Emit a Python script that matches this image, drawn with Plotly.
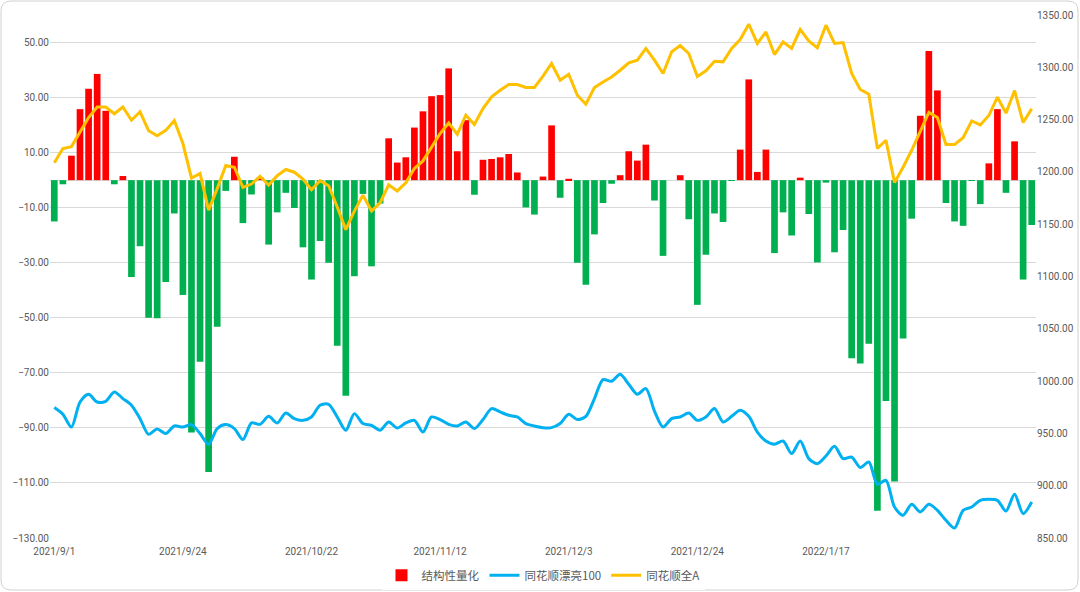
import pandas as pd
import plotly.graph_objects as go

# trading days 2021/9/1 - 2022/2/25 (A-share holidays removed)
HOLIDAYS = ["2021-09-20", "2021-09-21", "2021-10-01", "2021-10-04", "2021-10-05",
            "2021-10-06", "2021-10-07", "2022-01-03", "2022-01-31", "2022-02-01",
            "2022-02-02", "2022-02-03", "2022-02-04"]
days = [d for d in pd.bdate_range("2021-09-01", "2022-02-25")
        if d.strftime("%Y-%m-%d") not in HOLIDAYS]
dates = [f"{d.year}/{d.month}/{d.day}" for d in days]
tick_dates = ["2021/9/1", "2021/9/24", "2021/10/22", "2021/11/12",
              "2021/12/3", "2021/12/24", "2022/1/17"]

# 结构性量化 (left axis)
quant = [
    -15.0, -1.5, 8.9, 25.8, 33.2, 38.6, 25.2, -1.5, 1.5, -35.2,
    -24.0, -50.0, -50.2, -37.0, -12.1, -41.7, -91.7, -66.0, -106.0, -53.3,
    -3.9, 8.5, -15.6, -5.2, 1.0, -23.4, -11.7, -4.6, -10.1, -24.4,
    -36.1, -22.1, -30.0, -60.2, -78.3, -34.9, -5.0, -31.3, -8.5, 15.2,
    6.4, 8.3, 19.1, 25.0, 30.5, 30.9, 40.6, 10.5, 21.8, -5.3,
    7.4, 7.7, 8.3, 9.5, 2.8, -9.9, -12.5, 1.3, 19.9, -6.4,
    0.5, -30.0, -38.0, -19.7, -8.3, -1.3, 1.8, 10.5, 7.1, 12.9,
    -7.4, -27.5, 0.0, 1.8, -14.2, -45.3, -27.1, -12.1, -15.2, -0.3,
    11.1, 36.6, 3.0, 11.1, -26.5, -11.7, -20.1, 0.9, -12.3, -29.9,
    -0.9, -26.2, -18.1, -64.7, -66.6, -59.4, -120.1, -80.2, -109.5, -57.5,
    -14.0, 23.4, 46.9, 32.6, -8.3, -15.0, -16.6, -0.3, -8.7, 6.1,
    25.8, -4.6, 14.1, -36.1, -16.3,
]

# 同花顺漂亮100 (right axis)
pretty100 = [
    974.7, 968.3, 956.1, 980.0, 987.4, 980.0, 980.7, 989.6, 983.3, 976.9,
    964.1, 949.1, 954.2, 949.8, 957.1, 956.1, 958.4, 949.8, 939.6, 954.6,
    958.4, 954.6, 944.1, 960.0, 958.7, 966.3, 960.0, 969.5, 964.1, 962.5,
    965.7, 976.9, 977.8, 965.7, 953.0, 968.9, 959.4, 957.7, 953.0, 960.9,
    955.2, 960.0, 962.5, 951.3, 965.7, 963.2, 958.7, 957.1, 960.9, 954.6,
    963.2, 973.7, 970.5, 967.3, 965.7, 959.4, 957.1, 955.5, 955.5, 959.4,
    968.3, 963.2, 966.3, 983.3, 1001.4, 999.8, 1006.5, 996.9, 987.4, 992.8,
    971.4, 956.1, 964.1, 965.7, 969.5, 962.5, 965.7, 973.7, 960.9, 966.3,
    972.1, 966.3, 951.3, 942.7, 939.6, 942.7, 930.7, 942.7, 925.9, 921.1,
    928.4, 937.7, 925.9, 927.4, 917.3, 922.7, 901.3, 905.2, 879.6, 871.7,
    882.2, 874.9, 882.2, 876.5, 866.9, 859.6, 876.5, 879.6, 886.0, 887.0,
    886.0, 875.8, 891.8, 873.3, 884.4,
]

# 同花顺全A (right axis)
all_a = [
    1208.7, 1222.3, 1224.2, 1238.4, 1252.0, 1262.0, 1262.0, 1255.6, 1262.0, 1249.4,
    1257.5, 1239.4, 1234.6, 1239.7, 1249.1, 1227.1, 1194.2, 1198.4, 1163.5, 1184.0,
    1206.2, 1204.5, 1185.2, 1188.4, 1195.8, 1187.4, 1196.4, 1202.3, 1199.7, 1193.2,
    1182.9, 1191.6, 1186.8, 1166.4, 1144.8, 1162.5, 1177.8, 1162.6, 1170.5, 1187.7,
    1181.8, 1189.5, 1203.2, 1210.5, 1223.9, 1236.7, 1246.8, 1236.0, 1254.2, 1245.3,
    1260.6, 1271.7, 1278.1, 1283.5, 1283.5, 1280.7, 1280.7, 1291.5, 1303.6, 1287.7,
    1293.4, 1273.3, 1264.7, 1280.7, 1286.0, 1290.8, 1297.2, 1304.2, 1306.8, 1318.0,
    1306.8, 1294.1, 1314.7, 1320.8, 1313.2, 1291.2, 1296.6, 1305.8, 1305.2, 1318.0,
    1326.6, 1341.2, 1322.8, 1333.8, 1312.2, 1324.3, 1318.0, 1336.1, 1325.2, 1318.6,
    1340.2, 1322.8, 1323.7, 1294.1, 1278.8, 1274.3, 1222.4, 1230.3, 1189.8, 1204.5,
    1220.7, 1238.4, 1256.9, 1252.0, 1226.2, 1226.2, 1232.6, 1248.8, 1244.9, 1253.9,
    1271.4, 1256.2, 1277.8, 1247.2, 1260.4,
]

RED, GREEN, BLUE, GOLD = "#FF0000", "#00B050", "#00B0F0", "#FFC000"
GRID, TEXT = "#D9D9D9", "#595959"
CJK = "Noto Sans CJK SC, sans-serif"
NUM = "Roboto, Liberation Sans, sans-serif"

pos = [v if v >= 0 else None for v in quant]
neg = [v if v < 0 else None for v in quant]

fig = go.Figure()
fig.add_trace(go.Bar(x=dates, y=pos, name="结构性量化",
                     marker=dict(color=RED, line=dict(width=0))))
fig.add_trace(go.Bar(x=dates, y=neg, name="结构性量化", showlegend=False,
                     marker=dict(color=GREEN, line=dict(width=0))))
fig.add_trace(go.Scatter(
    x=dates, y=pretty100, name="同花顺漂亮100", yaxis="y2", mode="lines",
    line=dict(color=BLUE, width=3, shape="spline", smoothing=0.8),
))
fig.add_trace(go.Scatter(
    x=dates, y=all_a, name="同花顺全A", yaxis="y2", mode="lines",
    line=dict(color=GOLD, width=3),
))

# rounded chart-area border, drawn in paper coords
L, R, T, B = 50, 1036, 15, 538
def px(x): return (x - L) / (R - L)
def py(y): return (B - y) / (B - T)
x0, x1, y0, y1, r = 1, 1078, 1, 590, 10
path = (f"M {px(x0 + r)},{py(y0)} L {px(x1 - r)},{py(y0)} "
        f"Q {px(x1)},{py(y0)} {px(x1)},{py(y0 + r)} L {px(x1)},{py(y1 - r)} "
        f"Q {px(x1)},{py(y1)} {px(x1 - r)},{py(y1)} L {px(x0 + r)},{py(y1)} "
        f"Q {px(x0)},{py(y1)} {px(x0)},{py(y1 - r)} L {px(x0)},{py(y0 + r)} "
        f"Q {px(x0)},{py(y0)} {px(x0 + r)},{py(y0)} Z")

fig.update_layout(
    width=1080, height=592,
    margin=dict(l=L, r=1080 - R, t=T, b=592 - B, autoexpand=False),
    paper_bgcolor="white", plot_bgcolor="white",
    font=dict(family=CJK, size=11, color=TEXT),
    barmode="overlay", bargap=0.22,
    showlegend=True,
    legend=dict(orientation="h", x=0.5, xanchor="center", y=-0.071, yanchor="middle",
                font=dict(family=CJK, size=11.5, color=TEXT), itemwidth=30,
                tracegroupgap=0),
    xaxis=dict(
        type="category", range=[-0.5, len(dates) - 0.5],
        tickmode="array", tickvals=tick_dates, ticktext=tick_dates,
        showgrid=False, zeroline=False, showline=False, ticks="",
        ticklabelstandoff=6,
        tickfont=dict(family=NUM, size=10, color=TEXT), tickangle=0,
    ),
    yaxis=dict(
        range=[-130, 60], tickmode="array", tickvals=list(range(-130, 51, 20)),
        tickformat=".2f", showgrid=True, gridcolor=GRID, gridwidth=1,
        zeroline=True, zerolinecolor=GRID, zerolinewidth=1,
        tickfont=dict(family=NUM, size=10, color=TEXT), ticks="",
    ),
    yaxis2=dict(
        overlaying="y", side="right", range=[850, 1350], dtick=50,
        tickformat=".2f", showgrid=False, zeroline=False,
        tickfont=dict(family=NUM, size=10, color=TEXT), ticks="",
    ),
    shapes=[dict(type="path", path=path, xref="paper", yref="paper",
                 line=dict(color="#D0D0D0", width=1), layer="below")],
)

# the page's default body margin / scrollbars would push the figure off-screen
page_fix = ("document.documentElement.style.margin='0';"
            "document.documentElement.style.overflow='hidden';"
            "document.body.style.margin='0';"
            "document.body.style.overflow='hidden';")
fig.write_html("out.html", post_script=page_fix,
               config={"displayModeBar": False})
